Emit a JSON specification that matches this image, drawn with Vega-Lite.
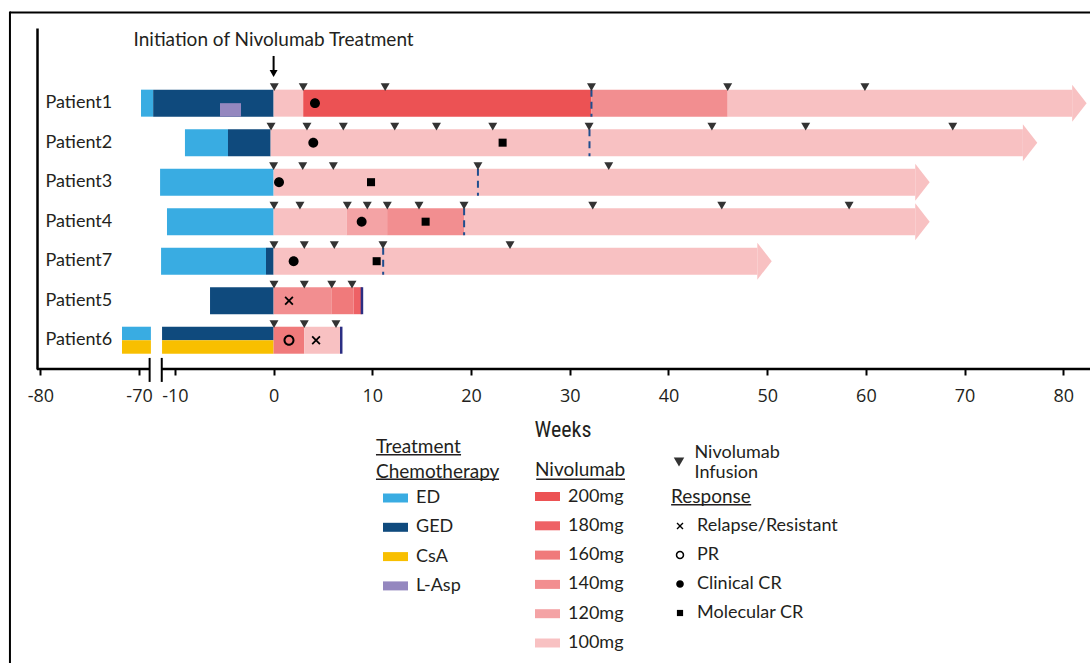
{
  "$schema": "https://vega.github.io/schema/vega-lite/v6.json",
  "width": 1051,
  "height": 341,
  "autosize": {"type": "none"},
  "padding": {"left": 37, "top": 28, "right": 2, "bottom": 294},
  "background": "white",
  "config": {
    "view": {"stroke": null},
    "font": "Lato",
    "legend": {"padding": 0, "titleFont": "Lato", "titleFontSize": 19, "titleFontWeight": "normal", "titleColor": "#231f20", "labelFont": "Lato", "labelFontSize": 18, "labelColor": "#231f20", "labelLimit": 300, "titleLimit": 300}
  },
  "datasets": {
    "chemo": [
      {"patient": "Patient1", "chemo": "ED", "start": -13.43, "end": -12.2, "lane": "full"},
      {"patient": "Patient1", "chemo": "GED", "start": -12.2, "end": 0, "lane": "full"},
      {"patient": "Patient1", "chemo": "L-Asp", "start": -5.43, "end": -3.3, "lane": "lower"},
      {"patient": "Patient2", "chemo": "ED", "start": -8.98, "end": -4.62, "lane": "full"},
      {"patient": "Patient2", "chemo": "GED", "start": -4.62, "end": -0.3, "lane": "full"},
      {"patient": "Patient3", "chemo": "ED", "start": -11.5, "end": 0, "lane": "full"},
      {"patient": "Patient4", "chemo": "ED", "start": -10.8, "end": 0, "lane": "full"},
      {"patient": "Patient7", "chemo": "ED", "start": -11.4, "end": -0.77, "lane": "full"},
      {"patient": "Patient7", "chemo": "GED", "start": -0.77, "end": 0, "lane": "full"},
      {"patient": "Patient5", "chemo": "GED", "start": -6.44, "end": 0, "lane": "full"},
      {"patient": "Patient6", "chemo": "ED", "start": -71.73, "end": -68.8, "lane": "upper"},
      {"patient": "Patient6", "chemo": "CsA", "start": -71.73, "end": -68.8, "lane": "lower"},
      {"patient": "Patient6", "chemo": "GED", "start": -11.3, "end": 0, "lane": "upper"},
      {"patient": "Patient6", "chemo": "CsA", "start": -11.3, "end": 0, "lane": "lower"}
    ],
    "nivolumab": [
      {"patient": "Patient1", "dose": "100mg", "start": 0, "end": 3.0},
      {"patient": "Patient1", "dose": "200mg", "start": 3.0, "end": 32.2},
      {"patient": "Patient1", "dose": "140mg", "start": 32.2, "end": 46.0},
      {"patient": "Patient1", "dose": "100mg", "start": 46.0, "end": 80.9},
      {"patient": "Patient2", "dose": "100mg", "start": -0.3, "end": 75.9},
      {"patient": "Patient3", "dose": "100mg", "start": 0, "end": 65.0},
      {"patient": "Patient4", "dose": "100mg", "start": 0, "end": 7.4},
      {"patient": "Patient4", "dose": "120mg", "start": 7.4, "end": 11.5},
      {"patient": "Patient4", "dose": "140mg", "start": 11.5, "end": 19.3},
      {"patient": "Patient4", "dose": "100mg", "start": 19.3, "end": 65.0},
      {"patient": "Patient7", "dose": "100mg", "start": 0, "end": 49.0},
      {"patient": "Patient5", "dose": "140mg", "start": 0, "end": 5.9},
      {"patient": "Patient5", "dose": "160mg", "start": 5.9, "end": 8.1},
      {"patient": "Patient5", "dose": "180mg", "start": 8.1, "end": 8.95},
      {"patient": "Patient6", "dose": "160mg", "start": 0, "end": 3.1},
      {"patient": "Patient6", "dose": "100mg", "start": 3.1, "end": 6.85}
    ],
    "ongoing": [
      {"patient": "Patient1", "end": 80.9},
      {"patient": "Patient2", "end": 75.9},
      {"patient": "Patient3", "end": 65.0},
      {"patient": "Patient4", "end": 65.0},
      {"patient": "Patient7", "end": 49.0}
    ],
    "stopped": [
      {"patient": "Patient5", "week": 8.95},
      {"patient": "Patient6", "week": 6.85}
    ],
    "assessments": [
      {"patient": "Patient1", "week": 32.2},
      {"patient": "Patient2", "week": 32.0},
      {"patient": "Patient3", "week": 20.7},
      {"patient": "Patient4", "week": 19.3},
      {"patient": "Patient7", "week": 11.1}
    ],
    "infusions": [
      {"patient": "Patient1", "week": 0.07}, {"patient": "Patient1", "week": 3.0}, {"patient": "Patient1", "week": 11.3},
      {"patient": "Patient1", "week": 32.2}, {"patient": "Patient1", "week": 46.0}, {"patient": "Patient1", "week": 59.9},
      {"patient": "Patient2", "week": -0.26}, {"patient": "Patient2", "week": 3.38}, {"patient": "Patient2", "week": 7.06},
      {"patient": "Patient2", "week": 12.27}, {"patient": "Patient2", "week": 16.5}, {"patient": "Patient2", "week": 22.2},
      {"patient": "Patient2", "week": 31.96}, {"patient": "Patient2", "week": 44.4}, {"patient": "Patient2", "week": 53.9},
      {"patient": "Patient2", "week": 68.8},
      {"patient": "Patient3", "week": 0.0}, {"patient": "Patient3", "week": 2.95}, {"patient": "Patient3", "week": 6.05},
      {"patient": "Patient3", "week": 20.7}, {"patient": "Patient3", "week": 33.95},
      {"patient": "Patient4", "week": 0.04}, {"patient": "Patient4", "week": 2.67}, {"patient": "Patient4", "week": 7.47},
      {"patient": "Patient4", "week": 9.49}, {"patient": "Patient4", "week": 11.52}, {"patient": "Patient4", "week": 14.73},
      {"patient": "Patient4", "week": 19.29}, {"patient": "Patient4", "week": 32.33}, {"patient": "Patient4", "week": 45.4},
      {"patient": "Patient4", "week": 58.3},
      {"patient": "Patient7", "week": 0.04}, {"patient": "Patient7", "week": 3.11}, {"patient": "Patient7", "week": 6.15},
      {"patient": "Patient7", "week": 11.08}, {"patient": "Patient7", "week": 23.95},
      {"patient": "Patient5", "week": 0.04}, {"patient": "Patient5", "week": 3.11}, {"patient": "Patient5", "week": 5.89},
      {"patient": "Patient5", "week": 7.94},
      {"patient": "Patient6", "week": 0.04}, {"patient": "Patient6", "week": 3.11}, {"patient": "Patient6", "week": 6.32}
    ],
    "responses": [
      {"patient": "Patient1", "response": "Clinical CR", "week": 4.19},
      {"patient": "Patient2", "response": "Clinical CR", "week": 4.02},
      {"patient": "Patient2", "response": "Molecular CR", "week": 23.2},
      {"patient": "Patient3", "response": "Clinical CR", "week": 0.55},
      {"patient": "Patient3", "response": "Molecular CR", "week": 9.87},
      {"patient": "Patient4", "response": "Clinical CR", "week": 8.92},
      {"patient": "Patient4", "response": "Molecular CR", "week": 15.4},
      {"patient": "Patient7", "response": "Clinical CR", "week": 2.03},
      {"patient": "Patient7", "response": "Molecular CR", "week": 10.44},
      {"patient": "Patient5", "response": "Relapse/Resistant", "week": 1.56},
      {"patient": "Patient6", "response": "PR", "week": 1.56},
      {"patient": "Patient6", "response": "Relapse/Resistant", "week": 4.3}
    ]
  },
  "layer": [
    {
      "data": {"name": "chemo"},
      "encoding": {
        "x": {
          "field": "start", "type": "quantitative", "title": "Weeks",
          "scale": {"type": "linear", "domain": [-80.34, -68.8, -14, 82.5], "range": [0, 113.9, 98.4, 1051], "nice": false, "zero": false},
          "axis": {
            "values": [-80, -70, -10, 0, 10, 20, 30, 40, 50, 60, 70, 80],
            "domain": false, "grid": false, "ticks": true, "tickSize": 6, "tickWidth": 2, "tickColor": "#000000",
            "labelExpr": "datum.value < 0 ? '-' + abs(datum.value) : '' + datum.value",
            "labelFont": "Open Sans", "labelFontSize": 18, "labelColor": "#231f20", "labelPadding": 12,
            "labelOverlap": false, "labelFlush": false,
            "titleFont": "Roboto Condensed, DejaVu Sans Condensed, Roboto, sans-serif", "titleFontSize": 22, "titleFontWeight": "normal", "titleColor": "#231f20", "titlePadding": 14
          }
        },
        "x2": {"field": "end"},
        "y": {
          "field": "patient", "type": "nominal", "title": null,
          "scale": {"domain": ["Patient1", "Patient2", "Patient3", "Patient4", "Patient7", "Patient5", "Patient6"], "paddingInner": 0.3, "paddingOuter": 0.9655, "align": 0.804},
          "axis": {"domain": true, "domainColor": "#000000", "domainWidth": 2.5, "ticks": false, "tickSize": 0, "labelAlign": "left", "labelBaseline": "middle", "labelPadding": -8, "labelFont": "Lato", "labelFontSize": 18, "labelColor": "#231f20", "grid": false}
        },
        "color": {
          "field": "chemo", "type": "nominal",
          "scale": {"domain": ["ED", "GED", "CsA", "L-Asp"], "range": ["#39ACE2", "#0F4A7D", "#F8BF00", "#9487BF"]},
          "legend": {"title": ["Treatment", "Chemotherapy"], "orient": "none", "legendX": 339, "legendY": 410, "direction": "vertical", "symbolType": "M-1,-0.36H1V0.36H-1Z", "symbolSize": 625, "symbolOffset": 7, "labelOffset": 8, "rowPadding": 7.3, "titlePadding": 4, "titleLineHeight": 24.5, "symbolStrokeWidth": 0}
        }
      },
      "layer": [
        {"transform": [{"filter": "datum.lane === 'full'"}], "mark": {"type": "bar", "height": 27, "opacity": 1}},
        {"transform": [{"filter": "datum.lane === 'upper'"}], "mark": {"type": "bar", "height": 13.5, "yOffset": -6.75, "opacity": 1}},
        {"transform": [{"filter": "datum.lane === 'lower'"}], "mark": {"type": "bar", "height": 13.5, "yOffset": 6.75, "opacity": 1}}
      ]
    },
    {
      "data": {"name": "nivolumab"},
      "mark": {"type": "bar", "height": 27, "opacity": 1},
      "encoding": {
        "x": {"field": "start", "type": "quantitative", "title": "Weeks"},
        "x2": {"field": "end"},
        "y": {"field": "patient", "type": "nominal", "title": null},
        "color": {
          "field": "dose", "type": "nominal",
          "scale": {"domain": ["200mg", "180mg", "160mg", "140mg", "120mg", "100mg"], "range": ["#EC5254", "#EE6165", "#F07A7B", "#F28E90", "#F4A3A5", "#F8C1C2"]},
          "legend": {"title": "Nivolumab", "orient": "none", "legendX": 498, "legendY": 433, "direction": "vertical", "symbolType": "M-1,-0.36H1V0.36H-1Z", "symbolSize": 625, "labelOffset": 8, "rowPadding": 7.3, "titlePadding": 4, "symbolStrokeWidth": 0}
        }
      }
    },
    {
      "data": {"name": "ongoing"},
      "mark": {"type": "point", "shape": "M0,-1L0.78,0L0,1Z", "size": 1369, "filled": true, "color": "#F8C1C2", "opacity": 1, "strokeWidth": 0},
      "encoding": {
        "x": {"field": "end", "type": "quantitative", "title": "Weeks"},
        "y": {"field": "patient", "type": "nominal", "title": null}
      }
    },
    {
      "data": {"name": "assessments"},
      "mark": {"type": "rule", "color": "#1F4E8F", "strokeWidth": 2, "strokeDash": [7, 5], "yOffset": -13.5, "y2Offset": 13.5},
      "encoding": {
        "x": {"field": "week", "type": "quantitative", "title": "Weeks"},
        "y": {"field": "patient", "type": "nominal", "title": null},
        "y2": {"field": "patient"}
      }
    },
    {
      "data": {"name": "stopped"},
      "mark": {"type": "rule", "color": "#2B2E83", "strokeWidth": 2.5, "yOffset": -13.5, "y2Offset": 13.5},
      "encoding": {
        "x": {"field": "week", "type": "quantitative", "title": "Weeks"},
        "y": {"field": "patient", "type": "nominal", "title": null},
        "y2": {"field": "patient"}
      }
    },
    {
      "data": {"name": "infusions"},
      "mark": {"type": "point", "filled": true, "opacity": 1, "size": 80, "color": "#333333", "yOffset": -16, "strokeWidth": 0},
      "encoding": {
        "x": {"field": "week", "type": "quantitative", "title": "Weeks"},
        "y": {"field": "patient", "type": "nominal", "title": null},
        "shape": {
          "datum": "Nivolumab Infusion", "type": "nominal",
          "scale": {"domain": ["Nivolumab Infusion"], "range": ["triangle-down"]},
          "legend": {"title": null, "orient": "none", "legendX": 633, "legendY": 425, "symbolSize": 110, "labelOffset": 6.5, "labelBaseline": "bottom", "labelExpr": "['Nivolumab', 'Infusion']"}
        }
      }
    },
    {
      "data": {"name": "responses"},
      "mark": {"type": "point", "filled": true, "opacity": 1, "size": 121, "color": "#000000", "strokeWidth": 0},
      "encoding": {
        "x": {"field": "week", "type": "quantitative", "title": "Weeks"},
        "y": {"field": "patient", "type": "nominal", "title": null},
        "shape": {
          "field": "response", "type": "nominal",
          "scale": {
            "domain": ["Relapse/Resistant", "PR", "Clinical CR", "Molecular CR"],
            "range": [
              "M-0.82,-0.59L-0.59,-0.82L0,-0.23L0.59,-0.82L0.82,-0.59L0.23,0L0.82,0.59L0.59,0.82L0,0.23L-0.59,0.82L-0.82,0.59L-0.23,0Z",
              "M1,0A1,1 0 1,0 -1,0A1,1 0 1,0 1,0ZM0.64,0A0.64,0.64 0 1,1 -0.64,0A0.64,0.64 0 1,1 0.64,0Z",
              "M0.9,0A0.9,0.9 0 1,1 -0.9,0A0.9,0.9 0 1,1 0.9,0Z",
              "M-0.73,-0.73H0.73V0.73H-0.73Z"
            ]
          },
          "legend": {"title": "Response", "orient": "none", "legendX": 634, "legendY": 460, "symbolSize": 72, "labelOffset": 8, "rowPadding": 11, "titlePadding": 10}
        }
      }
    },
    {
      "data": {"values": [{}]},
      "mark": {"type": "text", "text": "Initiation of Nivolumab Treatment", "font": "Lato", "fontSize": 19, "color": "#231f20", "align": "center", "baseline": "middle", "yOffset": -63.2},
      "encoding": {
        "x": {"datum": 0, "type": "quantitative"},
        "y": {"datum": "Patient1", "type": "nominal"}
      }
    },
    {
      "data": {"values": [{}]},
      "mark": {"type": "rule", "color": "#000000", "strokeWidth": 2, "yOffset": -47.2, "y2Offset": -31.2},
      "encoding": {
        "x": {"datum": 0, "type": "quantitative"},
        "y": {"datum": "Patient1", "type": "nominal"},
        "y2": {"datum": "Patient1"}
      }
    },
    {
      "data": {"values": [{}]},
      "mark": {"type": "point", "shape": "triangle-down", "filled": true, "size": 64, "color": "#000000", "opacity": 1, "strokeWidth": 0, "yOffset": -29.7},
      "encoding": {
        "x": {"datum": 0, "type": "quantitative"},
        "y": {"datum": "Patient1", "type": "nominal"}
      }
    },
    {
      "data": {"values": [{}]},
      "mark": {"type": "rule", "color": "#000000", "strokeWidth": 2.5, "yOffset": 28.7},
      "encoding": {
        "x": {"datum": -80.34, "type": "quantitative"},
        "x2": {"datum": -68.93},
        "y": {"datum": "Patient6", "type": "nominal"}
      }
    },
    {
      "data": {"values": [{}]},
      "mark": {"type": "rule", "color": "#000000", "strokeWidth": 2.5, "yOffset": 28.7},
      "encoding": {
        "x": {"datum": -11.33, "type": "quantitative"},
        "x2": {"datum": 84},
        "y": {"datum": "Patient6", "type": "nominal"}
      }
    },
    {
      "data": {"values": [{"week": -68.93}, {"week": -11.33}]},
      "mark": {"type": "rule", "color": "#000000", "strokeWidth": 2, "yOffset": 17.7, "y2Offset": 41.7},
      "encoding": {
        "x": {"field": "week", "type": "quantitative", "title": "Weeks"},
        "y": {"datum": "Patient6", "type": "nominal"},
        "y2": {"datum": "Patient6"}
      }
    },
    {
      "data": {"values": [{}]},
      "mark": {"type": "rule", "color": "#000000", "strokeWidth": 2, "yOffset": -90.7},
      "encoding": {
        "x": {"datum": -83.08, "type": "quantitative"},
        "x2": {"datum": 90},
        "y": {"datum": "Patient1", "type": "nominal"}
      }
    },
    {
      "data": {"values": [{}]},
      "mark": {"type": "rule", "color": "#000000", "strokeWidth": 2, "yOffset": -91.7, "y2Offset": 330},
      "encoding": {
        "x": {"datum": -83.08, "type": "quantitative"},
        "y": {"datum": "Patient1", "type": "nominal"},
        "y2": {"datum": "Patient6"}
      }
    },
    {
      "data": {"values": [{}]},
      "mark": {"type": "rule", "color": "#231f20", "strokeWidth": 1.5, "yOffset": 114.5},
      "encoding": {
        "x": {"datum": 10.37, "type": "quantitative"},
        "x2": {"datum": 18.99},
        "y": {"datum": "Patient6", "type": "nominal"}
      }
    },
    {
      "data": {"values": [{}]},
      "mark": {"type": "rule", "color": "#231f20", "strokeWidth": 1.5, "yOffset": 139},
      "encoding": {
        "x": {"datum": 10.37, "type": "quantitative"},
        "x2": {"datum": 22.84},
        "y": {"datum": "Patient6", "type": "nominal"}
      }
    },
    {
      "data": {"values": [{}]},
      "mark": {"type": "rule", "color": "#231f20", "strokeWidth": 1.5, "yOffset": 139},
      "encoding": {
        "x": {"datum": 26.6, "type": "quantitative"},
        "x2": {"datum": 35.6},
        "y": {"datum": "Patient6", "type": "nominal"}
      }
    },
    {
      "data": {"values": [{}]},
      "mark": {"type": "rule", "color": "#231f20", "strokeWidth": 1.5, "yOffset": 164.5},
      "encoding": {
        "x": {"datum": 40.27, "type": "quantitative"},
        "x2": {"datum": 48.38},
        "y": {"datum": "Patient6", "type": "nominal"}
      }
    }
  ],
  "resolve": {"scale": {"color": "independent", "shape": "independent"}}
}
